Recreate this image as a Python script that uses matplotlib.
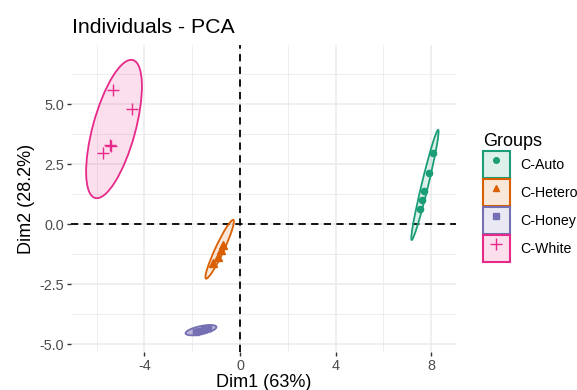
import matplotlib
matplotlib.use("Agg")
import matplotlib.pyplot as plt
from matplotlib.patches import Ellipse, Patch
from matplotlib.lines import Line2D
from matplotlib.legend_handler import HandlerTuple
import matplotlib.colors as mcolors

plt.rcParams['font.family'] = ['Liberation Sans', 'DejaVu Sans']

# ---- data ----
groups = ["C-Auto", "C-Hetero", "C-Honey", "C-White"]
colors = ["#1B9E77", "#D95F02", "#7570B3", "#E7298A"]
markers = ["o", "^", "s", "+"]

auto_x = [8.06, 7.92, 7.70, 7.60, 7.53]
auto_y = [2.95, 2.11, 1.38, 1.00, 0.61]
hetero_x = [-0.70, -0.81, -0.91, -1.12]
hetero_y = [-0.88, -1.08, -1.36, -1.64]
honey_x = [-1.85, -1.70, -1.50, -1.35]
honey_y = [-4.50, -4.45, -4.38, -4.33]
white_x = [-5.33, -4.53, -5.44, -5.40, -5.72]
white_y = [5.58, 4.79, 3.29, 3.25, 2.97]

# ellipse (95% norm) parameters: center x, center y, semi-major, semi-minor, angle (deg)
ell_cx = [7.74, -0.85, -1.63, -5.27]
ell_cy = [1.63, -1.05, -4.42, 3.96]
ell_a = [2.36, 1.35, 0.66, 2.98]
ell_b = [0.14, 0.18, 0.17, 0.89]
ell_ang = [76.4, 64.9, 12.0, 74.6]

xs = [auto_x, hetero_x, honey_x, white_x]
ys = [auto_y, hetero_y, honey_y, white_y]

x_ticks = [-4, 0, 4, 8]
y_ticks = [-5.0, -2.5, 0.0, 2.5, 5.0]
x_minor = [-6, -2, 2, 6]
y_minor = [-3.75, -1.25, 1.25, 3.75, 6.25]

# ---- figure ----
W, H = 577, 390
fig = plt.figure(figsize=(W / 100, H / 100), dpi=100)
ax = fig.add_axes([71 / W, 1 - 352 / H, 385 / W, 307 / H])
ax.set_xlim(-7.07, 9.04)
ax.set_ylim(-5.33, 7.46)

for v in x_minor:
    ax.axvline(v, color="#EBEBEB", lw=0.6, zorder=0)
for v in y_minor:
    ax.axhline(v, color="#EBEBEB", lw=0.6, zorder=0)
for v in x_ticks:
    ax.axvline(v, color="#EBEBEB", lw=1.1, zorder=0)
for v in y_ticks:
    ax.axhline(v, color="#EBEBEB", lw=1.1, zorder=0)

ax.axhline(0, color="black", lw=1.3, ls=(0, (4, 3)), zorder=1)
ax.axvline(0, color="black", lw=1.3, ls=(0, (4, 3)), zorder=1)

msizes = {"o": 4.5, "^": 5.5, "s": 5, "+": 9}
fill_alpha = [0.15, 0.15, 0.5, 0.15]
for i, g in enumerate(groups):
    c = colors[i]
    fc = mcolors.to_rgba(c, fill_alpha[i])
    e = Ellipse((ell_cx[i], ell_cy[i]), 2 * ell_a[i], 2 * ell_b[i], angle=ell_ang[i],
                facecolor=fc, edgecolor=c, lw=1.3, zorder=2)
    ax.add_patch(e)
    ax.plot(xs[i], ys[i], ls="none", marker=markers[i], color=c, ms=msizes[markers[i]],
            mew=1.0, zorder=3)

ax.set_xticks(x_ticks)
ax.set_xticklabels([str(v) for v in x_ticks])
ax.set_yticks(y_ticks)
ax.set_yticklabels([f"{v:.1f}" for v in y_ticks])
ax.tick_params(axis="both", colors="#333333", length=3, width=1.0, labelsize=10.4,
               labelcolor="#4D4D4D", pad=2)
for s in ax.spines.values():
    s.set_visible(False)

ax.set_xlabel("Dim1 (63%)", fontsize=13, labelpad=1)
ax.set_ylabel("Dim2 (28.2%)", fontsize=13, labelpad=3)
fig.text(72 / W, 1 - 33 / H, "Individuals - PCA", fontsize=15.3, ha="left", va="baseline")

handles = []
for i, g in enumerate(groups):
    c = colors[i]
    p = Patch(facecolor=mcolors.to_rgba(c, 0.15), edgecolor=c, lw=1.5)
    m = Line2D([], [], ls="none", marker=markers[i], color=c,
               ms=msizes[markers[i]] * 0.9, mew=1.0)
    handles.append((p, m))

leg = fig.legend(handles, groups, handler_map={tuple: HandlerTuple(ndivide=1, pad=0)},
                 loc="upper left", bbox_to_anchor=(483 / W, 1 - 133 / H),
                 frameon=False, fontsize=10.2, title="Groups", title_fontsize=13,
                 alignment="left", handlelength=1.9, handleheight=2.55,
                 handletextpad=0.7, labelspacing=0.07, borderpad=0, borderaxespad=0)
leg._legend_handle_box.sep = 7

fig.savefig("out.png", dpi=100)
